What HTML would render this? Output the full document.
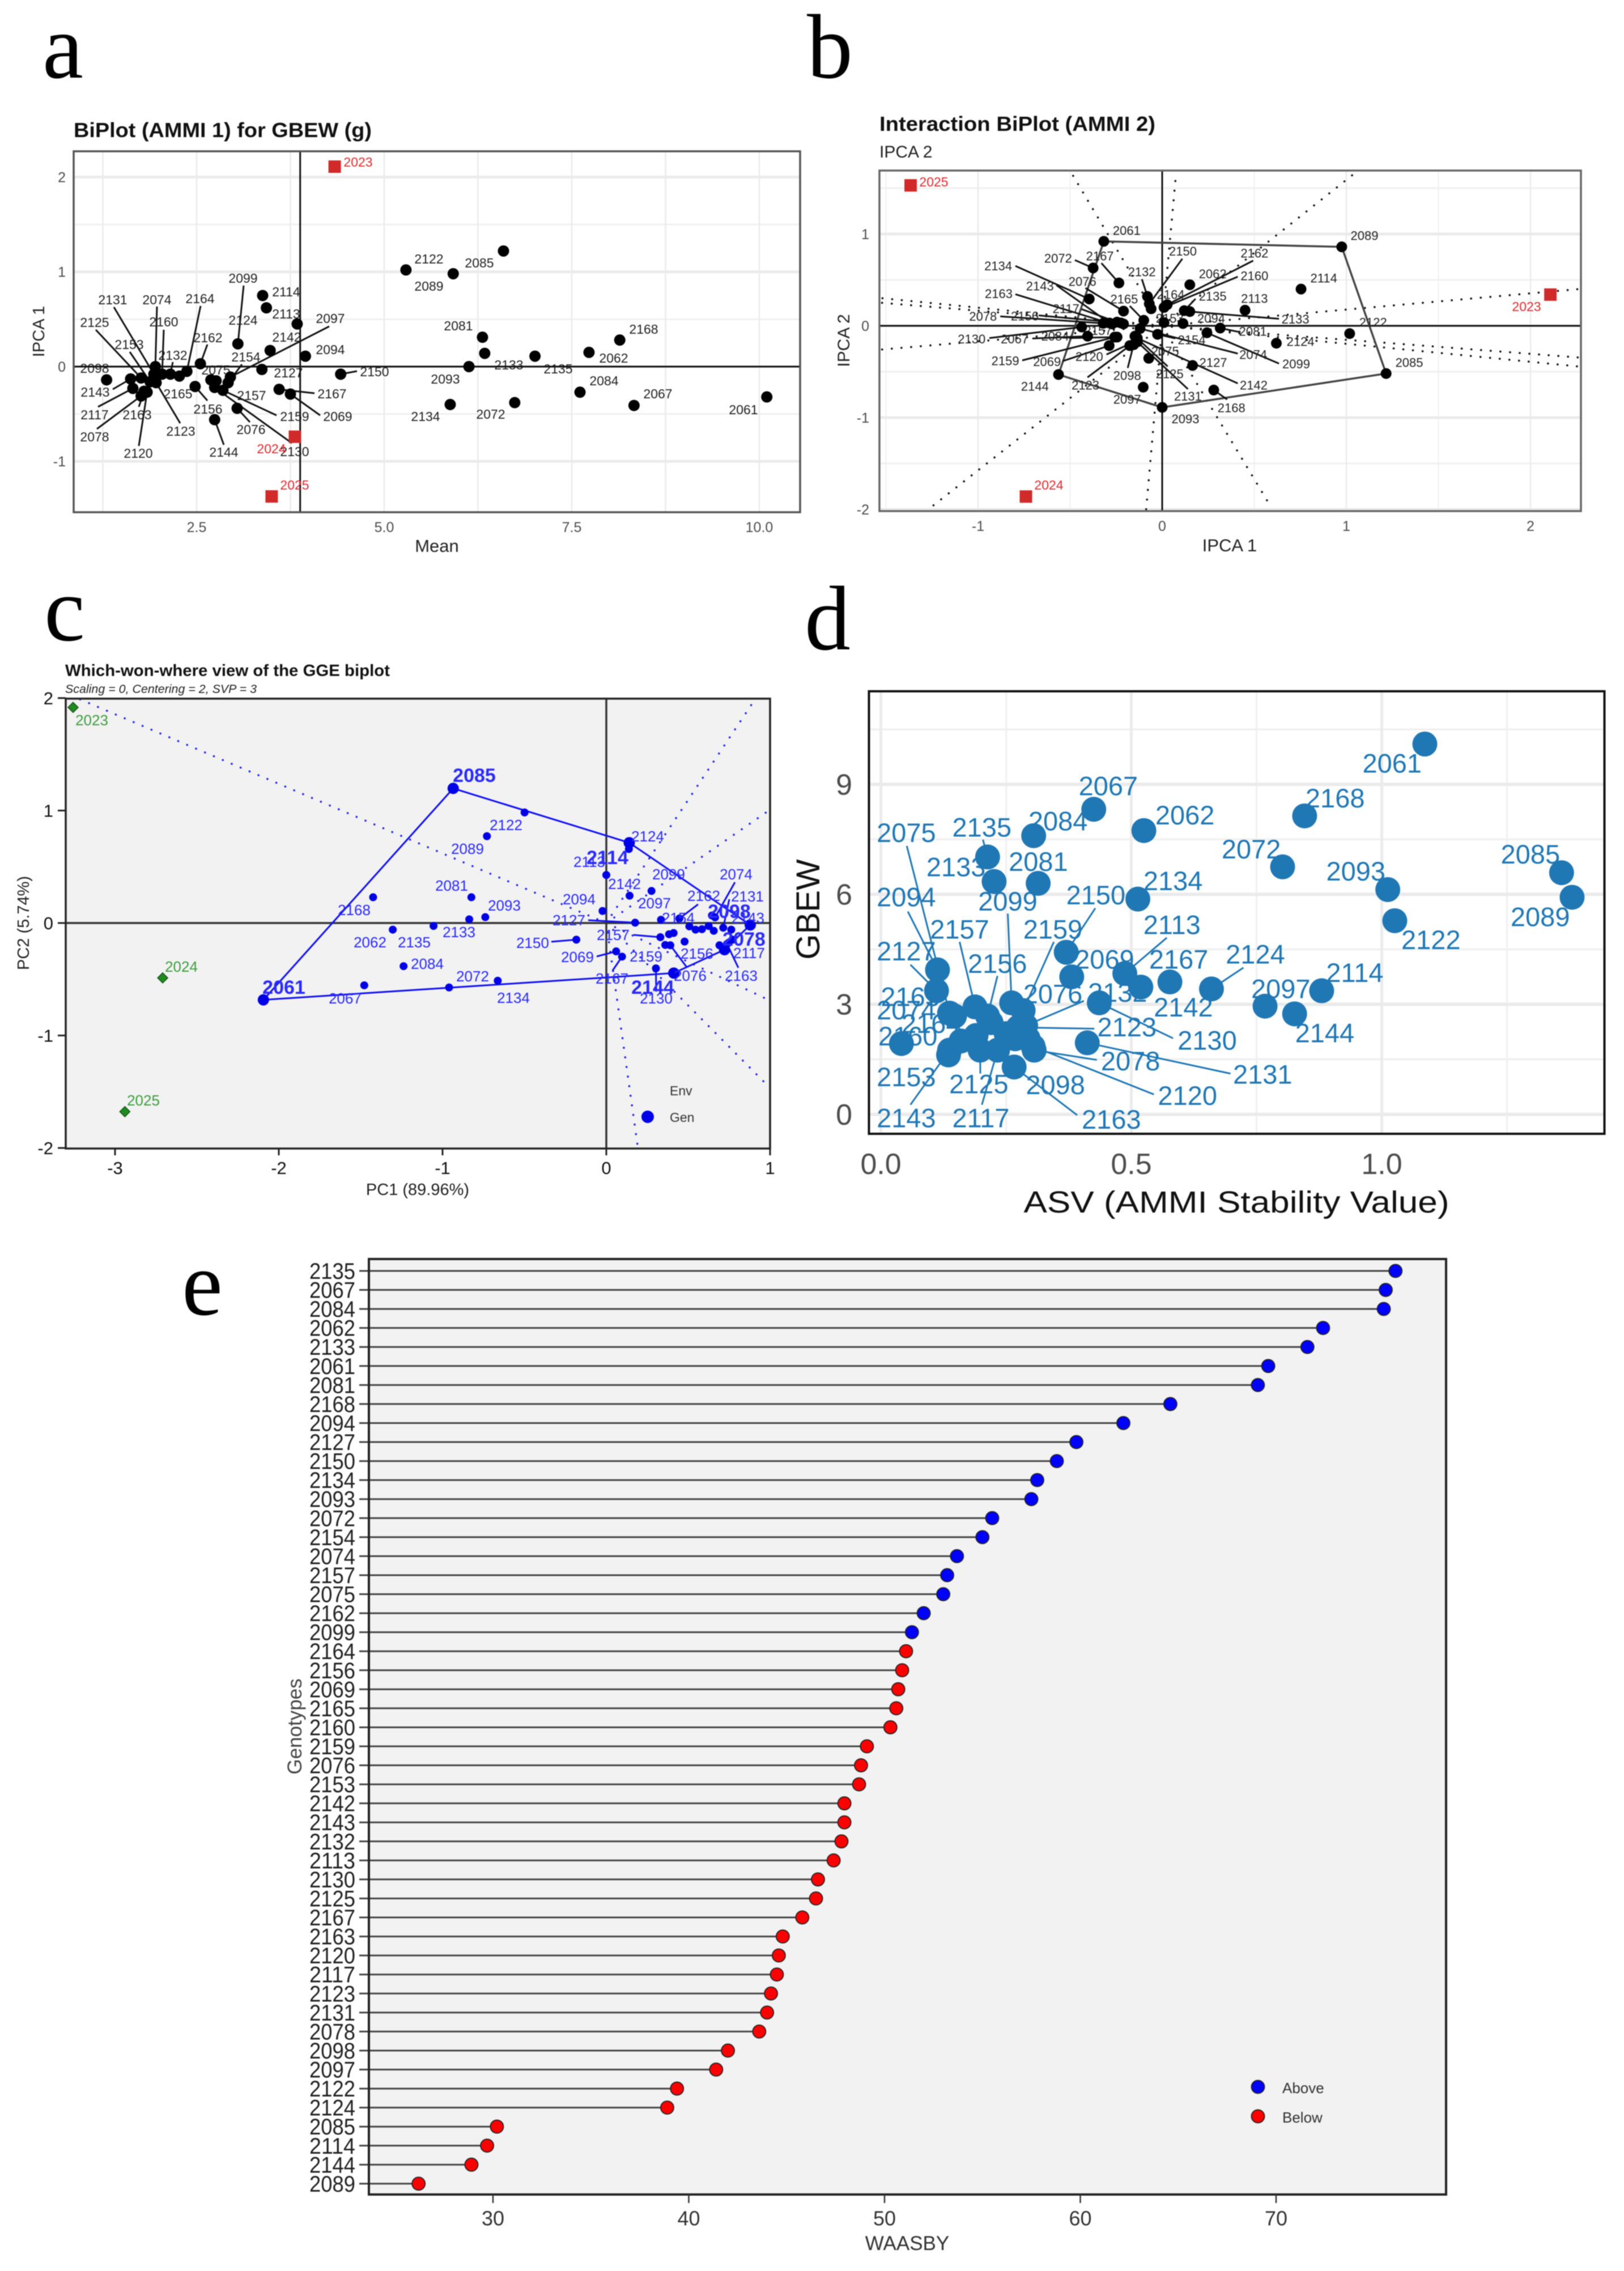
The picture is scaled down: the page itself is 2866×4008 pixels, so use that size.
<!DOCTYPE html>
<html lang="en">
<head>
<meta charset="utf-8">
<title>AMMI, GGE and WAASBY biplots for GBEW</title>
<style>
html,body{margin:0;padding:0;background:#fff;width:2866px;height:4008px;overflow:hidden}
svg{display:block;filter:blur(0.9px)}
text{font-family:"Liberation Sans",sans-serif}
.letter{font-family:"Liberation Serif",serif;font-size:162px;fill:#000}
</style>
</head>
<body>
<svg id="figure" xmlns="http://www.w3.org/2000/svg" width="2866" height="4008" viewBox="0 0 2866 4008">
  <rect x="0" y="0" width="2866" height="4008" fill="#fff"/>

  <g id="panel-a">
    <text class="letter" x="75" y="137">a</text>
    <text x="130" y="242" font-size="36" font-weight="bold" fill="#111" textLength="526" lengthAdjust="spacingAndGlyphs">BiPlot (AMMI 1) for GBEW (g)</text>
    <text x="771" y="974" font-size="31" fill="#222" text-anchor="middle">Mean</text>
    <text transform="translate(78 585) rotate(-90)" font-size="29" fill="#222" text-anchor="middle">IPCA 1</text>
  </g>

  <g id="panel-b">
    <text class="letter" x="1424" y="137">b</text>
    <text x="1552" y="231" font-size="36" font-weight="bold" fill="#111" textLength="487" lengthAdjust="spacingAndGlyphs">Interaction BiPlot (AMMI 2)</text>
    <text x="1552" y="278" font-size="30" fill="#222">IPCA 2</text>
    <text x="2170" y="973" font-size="31" fill="#222" text-anchor="middle">IPCA 1</text>
    <text transform="translate(1499 601) rotate(-90)" font-size="30" fill="#222" text-anchor="middle">IPCA 2</text>
  </g>

  <g id="panel-c">
    <text class="letter" x="78" y="1130">c</text>
    <text x="115" y="1193" font-size="29" font-weight="bold" fill="#111" textLength="573" lengthAdjust="spacingAndGlyphs">Which-won-where view of the GGE biplot</text>
    <text x="115" y="1223" font-size="21" font-style="italic" fill="#222" textLength="338" lengthAdjust="spacingAndGlyphs">Scaling = 0, Centering = 2, SVP = 3</text>
    <text x="737" y="2109" font-size="29" fill="#222" text-anchor="middle">PC1 (89.96%)</text>
    <text transform="translate(51 1629) rotate(-90)" font-size="29" fill="#222" text-anchor="middle">PC2 (5.74%)</text>
  </g>

  <g id="panel-d">
    <text class="letter" x="1420" y="1146">d</text>
    <text x="2182" y="2140" font-size="54" fill="#111" text-anchor="middle" textLength="751" lengthAdjust="spacingAndGlyphs">ASV (AMMI Stability Value)</text>
    <text transform="translate(1446 1605) rotate(-90)" font-size="58" fill="#111" text-anchor="middle">GBEW</text>
  </g>

  <g id="panel-e">
    <text class="letter" x="321" y="2320">e</text>
    <text x="1601" y="3971" font-size="35" fill="#333" text-anchor="middle">WAASBY</text>
    <text transform="translate(532 3047) rotate(-90)" font-size="35" fill="#444" text-anchor="middle">Genotypes</text>
  </g>
</svg>

<script>
/* ---------- Panel a data ---------- */
const aGenotypes = ['2098','2143','2117','2125','2078','2120','2163','2153','2131','2074','2160','2132','2165','2164','2162','2156','2123','2075','2154','2157','2097','2159','2130','2076','2144','2099','2114','2113','2124','2142','2094','2127','2150','2167','2069','2061','2067','2084','2168','2062','2135','2133','2081','2093','2134','2072','2122','2089','2085'];
const aMean = [1.30,1.62,1.65,1.76,1.76,1.84,1.80,1.88,1.93,1.95,2.04,2.15,2.27,2.37,2.55,2.48,1.96,2.69,2.92,2.76,2.95,2.85,2.74,3.04,2.74,3.05,3.38,3.84,3.43,3.48,3.95,3.37,4.42,3.60,3.75,10.10,8.33,7.61,8.14,7.73,7.01,6.34,6.31,6.13,5.88,6.74,5.29,5.92,6.59];
const aIpca1 = [-0.14,-0.13,-0.23,-0.12,-0.31,-0.27,-0.26,-0.16,-0.08,0.00,-0.08,-0.08,-0.10,-0.05,0.03,-0.21,-0.17,-0.14,-0.17,-0.15,-0.11,-0.25,-0.22,-0.44,-0.56,0.24,0.75,0.45,0.62,0.17,0.11,-0.03,-0.08,-0.24,-0.29,-0.32,-0.41,-0.27,0.28,0.15,0.11,0.14,0.31,0.00,-0.40,-0.38,1.02,0.98,1.22];
const aEnvironments = ['2023','2024','2025'];
const aEnvMean = [4.34,3.81,3.50];
const aEnvIpca1 = [2.11,-0.74,-1.37];
const aGrandMean = 3.88;
const aXTicks = [2.5,5,7.5,10];
const aXTickLabels = ['2.5','5.0','7.5','10.0'];
const aYTicks = [-1,0,1,2];
const aYTickLabels = ['-1','0','1','2'];

/* ---------- Panel b data ---------- */
const bGenotypes = ['2061','2072','2167','2134','2143','2076','2163','2117','2165','2132','2150','2062','2162','2160','2164','2135','2113','2133','2153','2094','2081','2124','2099','2074','2154','2075','2127','2142','2125','2131','2168','2097','2093','2098','2123','2144','2120','2069','2159','2157','2084','2067','2130','2078','2156','2089','2114','2122','2085'];
const bIpca1 = [-0.317,-0.375,-0.235,-0.396,-0.286,-0.21,-0.272,-0.245,-0.10,-0.08,-0.07,0.15,0.027,0.01,-0.06,0.12,0.45,0.15,0.01,0.113,0.315,0.62,0.243,-0.12,-0.025,-0.073,0.165,-0.135,-0.148,-0.135,0.28,-0.103,0,-0.155,-0.176,-0.563,-0.141,-0.288,-0.258,-0.21,-0.245,-0.405,-0.437,-0.32,-0.224,0.975,0.754,1.018,1.216];
const bIpca2 = [0.92,0.63,0.467,0.292,0.03,0.16,0.02,0.04,0.06,0.32,0.24,0.447,0.23,0.2,0.185,0.165,0.17,0.155,0.035,0.025,-0.025,-0.19,-0.076,-0.03,-0.093,-0.354,-0.432,-0.134,-0.113,-0.175,-0.70,-0.669,-0.889,-0.206,-0.216,-0.531,-0.165,-0.216,-0.123,0.02,-0.123,-0.113,-0.014,0.027,0.031,0.86,0.40,-0.085,-0.52];
const bEnvironments = ['2023','2024','2025'];
const bEnvIpca1 = [2.108,-0.74,-1.366];
const bEnvIpca2 = [0.34,-1.86,1.53];
const bHull = ['2061','2089','2085','2093','2144'];
const bRayEndX = [-0.496,0.076,1.054,2.28,2.28,2.28,0.589,-0.087,-1.27,-1.538,-1.538,-1.538];
const bRayEndY = [1.676,1.676,1.676,0.403,-0.348,-0.447,-1.968,-2.0,-2.0,-0.261,0.253,0.304];
const bXTicks = [-1,0,1,2];
const bXTickLabels = ['-1','0','1','2'];
const bYTicks = [-2,-1,0,1];
const bYTickLabels = ['-2','-1','0','1'];

/* ---------- Panel c data ---------- */
const cGenotypes = ['2061','2085','2122','2089','2168','2081','2093','2133','2135','2062','2084','2067','2072','2134','2150','2114','2124','2113','2142','2097','2094','2127','2154','2162','2164','2165','2160','2153','2132','2131','2125','2143','2074','2098','2078','2117','2120','2163','2123','2144','2130','2157','2075','2099','2159','2076','2156','2069','2167'];
const cPc1 = [-2.094,-0.935,-0.499,-0.729,-1.424,-0.824,-0.739,-0.837,-1.055,-1.304,-1.238,-1.478,-0.96,-0.663,-0.183,0.14,0.138,0,0.142,0.276,-0.023,0.176,0.334,0.446,0.507,0.545,0.584,0.625,0.656,0.714,0.763,0.645,0.664,0.879,0.722,0.691,0.771,0.737,0.749,0.412,0.303,0.33,0.383,0.411,0.36,0.391,0.478,0.06,0.096];
const cPc2 = [-0.683,1.197,0.983,0.772,0.229,0.229,0.052,0.033,-0.026,-0.059,-0.384,-0.554,-0.573,-0.513,-0.148,0.714,0.658,0.427,0.243,0.285,0.107,0.003,0.029,0.04,-0.03,-0.059,-0.055,-0.027,-0.069,-0.042,-0.059,0.067,0.05,-0.017,-0.237,-0.198,-0.148,-0.186,-0.173,-0.445,-0.403,-0.126,-0.10,-0.089,-0.195,-0.198,-0.165,-0.252,-0.299];
const cEnvironments = ['2023','2024','2025'];
const cEnvPc1 = [-3.256,-2.709,-2.94];
const cEnvPc2 = [1.917,-0.488,-1.677];
const cHull = ['2061','2085','2114','2098','2078','2144'];
const cRayEndX = [-3.224,0.193,0.913,1,1,1];
const cRayEndY = [1.995,-2,2,1.008,-0.69,-1.467];
const cXTicks = [-3,-2,-1,0,1];
const cXTickLabels = ['-3','-2','-1','0','1'];
const cYTicks = [-2,-1,0,1,2];
const cYTickLabels = ['-2','-1','0','1','2'];

/* ---------- Panel d data ---------- */
const dGenotypes = ['2061','2168','2062','2067','2084','2135','2133','2081','2072','2093','2085','2089','2122','2134','2150','2069','2113','2142','2167','2124','2114','2097','2144','2130','2131','2094','2127','2075','2157','2099','2156','2159','2074','2165','2160','2164','2153','2143','2125','2117','2098','2163','2078','2120','2132','2123','2076','2154','2162'];
const dAsv = [1.086,0.846,0.525,0.425,0.305,0.213,0.226,0.314,0.802,1.012,1.359,1.38,1.026,0.513,0.37,0.381,0.487,0.519,0.577,0.66,0.88,0.767,0.826,0.436,0.412,0.113,0.111,0.137,0.188,0.261,0.213,0.284,0.147,0.19,0.041,0.16,0.135,0.137,0.198,0.233,0.268,0.266,0.306,0.304,0.294,0.274,0.289,0.25,0.22];
const dGbew = [10.10,8.14,7.74,8.32,7.60,7.02,6.35,6.30,6.75,6.13,6.59,5.92,5.28,5.87,4.42,3.75,3.84,3.47,3.61,3.42,3.37,2.95,2.74,3.04,1.95,3.94,3.37,2.76,2.93,3.04,2.68,2.83,2.68,2.15,1.93,2.0,1.62,1.75,1.75,1.75,2.06,1.29,1.75,1.85,2.06,2.37,2.42,2.2,2.5];
const dXTicks = [0,0.5,1];
const dXTickLabels = ['0.0','0.5','1.0'];
const dYTicks = [0,3,6,9];
const dYTickLabels = ['0','3','6','9'];

/* ---------- Panel e data ---------- */
const eGenotypes = ['2135','2067','2084','2062','2133','2061','2081','2168','2094','2127','2150','2134','2093','2072','2154','2074','2157','2075','2162','2099','2164','2156','2069','2165','2160','2159','2076','2153','2142','2143','2132','2113','2130','2125','2167','2163','2120','2117','2123','2131','2078','2098','2097','2122','2124','2085','2114','2144','2089'];
const eWaasby = [76.1,75.6,75.5,72.4,71.6,69.6,69.07,64.6,62.2,59.8,58.8,57.8,57.5,55.5,55.0,53.7,53.2,53.0,52.0,51.4,51.1,50.9,50.7,50.6,50.3,49.1,48.8,48.7,47.95,47.95,47.8,47.4,46.6,46.5,45.8,44.8,44.6,44.5,44.2,44.0,43.6,42.0,41.4,39.4,38.9,30.2,29.7,28.9,26.2];
const eGroupThreshold = 51.25;
const eXTicks = [30,40,50,60,70];
const eXTickLabels = ['30','40','50','60','70'];

/* ---------- Label placement (layout only: label centre, optional leader start) ---------- */
const aLabelLayout = {'2098':[167,650],'2143':[168,692,199,687],'2117':[167,732,173,718],'2125':[167,569,169,582],'2078':[167,771,171,757],'2120':[244,800,245,787],'2163':[242,732,245,718],'2153':[228,608,229,621],'2131':[199,529,201,542],'2074':[277,529,277,541],'2160':[289,568,289,582],'2132':[305,627,305,639],'2165':[314,695],'2164':[353,527,354,540],'2162':[367,596,366,608],'2156':[367,722,366,707],'2123':[319,761,318,747],'2075':[381,653],'2154':[434,630,427,643],'2157':[444,698],'2097':[583,562,581,576],'2159':[520,735,488,733],'2130':[520,797,515,782],'2076':[443,758,441,745],'2144':[395,798,395,785],'2099':[429,491,430,504],'2114':[505,515],'2113':[505,554],'2124':[429,565],'2142':[506,595],'2094':[583,617],'2127':[509,658],'2150':[661,656,630,655],'2167':[586,695,555,694],'2069':[596,735,565,733],'2061':[1312,723],'2067':[1161,695],'2084':[1066,672],'2168':[1136,581],'2062':[1083,632],'2135':[985,651],'2133':[898,644],'2081':[809,575],'2093':[786,669],'2134':[751,735],'2072':[866,731],'2122':[757,457],'2089':[757,505],'2085':[846,464]};
const aEnvLabelLayout = {'2023':[632,286],'2024':[479,792],'2025':[520,856]};

/* b layout is in a 2.24x / 3x grid anchored at (1650,380) */
const bLabelLayout = {'2061':[758,80],'2072':[487,228,553,237],'2167':[652,215,658,253],'2134':[250,268,318,268],'2143':[415,375,480,370],'2076':[583,350,595,385],'2163':[252,415,318,418],'2117':[518,495,580,497],'2165':[748,443,770,480],'2132':[818,300,818,338],'2150':[980,190,978,230],'2062':[1098,310],'2162':[1263,200,1258,240],'2160':[1263,320,1197,325],'2164':[932,420],'2135':[1098,428,1030,442],'2113':[1263,440],'2133':[1425,550,1360,548],'2153':[928,545],'2094':[1092,545],'2081':[1257,615,1200,617],'2124':[1445,668],'2099':[1428,787,1360,785],'2074':[1258,737,1197,732],'2154':[1015,660,950,652],'2075':[910,720],'2127':[1100,780],'2142':[1260,900,1197,890],'2125':[928,840,920,800],'2131':[1000,958,1000,920],'2168':[1172,1020,1155,975],'2097':[760,975],'2093':[990,1078],'2098':[760,848,762,808],'2123':[595,900,603,858],'2144':[395,905],'2120':[610,748,678,737],'2069':[443,775,505,772],'2159':[278,770,345,768],'2157':[645,610],'2084':[475,640,530,650],'2067':[315,655,385,652],'2130':[145,655,215,650],'2078':[190,535,258,535],'2156':[355,533,410,530],'2089':[1698,108],'2114':[1537,333],'2122':[1732,567],'2085':[1875,780]};
const bEnvLabelLayout = {'2023':[2694,541],'2024':[1851,856],'2025':[1648,321]};

const cLabelLayout = {'2061':[501,1742],'2085':[837,1368],'2122':[893,1456],'2089':[825,1498],'2168':[625,1606],'2081':[797,1563],'2093':[890,1598],'2133':[810,1645],'2135':[731,1663],'2062':[653,1663],'2084':[754,1701],'2067':[609,1762],'2072':[834,1723],'2134':[906,1761],'2150':[940,1664,973,1662],'2094':[1022,1587],'2127':[1004,1624,1038,1624],'2114':[1072,1513],'2113':[1040,1521],'2124':[1143,1476],'2142':[1102,1560],'2099':[1180,1543],'2097':[1155,1594],'2162':[1242,1581,1232,1596],'2074':[1299,1543,1297,1557],'2131':[1319,1582,1287,1587],'2098':[1287,1608],'2143':[1320,1620],'2154':[1197,1620],'2157':[1082,1650,1118,1650],'2078':[1313,1657],'2117':[1322,1682],'2156':[1230,1683],'2159':[1140,1688],'2069':[1019,1689,1053,1688],'2167':[1080,1727,1081,1713],'2076':[1218,1722,1212,1707],'2163':[1308,1722,1303,1708],'2144':[1152,1742],'2130':[1158,1762,1158,1750]};
const cEnvLabelLayout = {'2023':[162,1271],'2024':[320,1706],'2025':[253,1942]};

/* d layout is in a 1.094x / 1.3635x grid anchored at (1433,1000) */
const dLabelLayout = {'2061':[1120,473],'2168':[1010,557],'2062':[720,598],'2067':[572,528],'2084':[475,612],'2135':[328,627,330,657],'2133':[278,723],'2081':[437,710],'2072':[848,680],'2093':[1050,733],'2085':[1387,692],'2089':[1406,843],'2122':[1195,898],'2134':[697,756],'2150':[548,790,547,822],'2069':[565,945],'2113':[695,862,685,893],'2142':[717,1060],'2167':[708,945],'2124':[856,933,833,965],'2114':[1048,977],'2097':[905,1016],'2144':[990,1122],'2130':[763,1140,697,1135],'2131':[870,1222,808,1220],'2094':[182,795,185,830],'2127':[182,925,190,958],'2075':[182,640,183,672],'2157':[285,873,285,903],'2099':[378,805,378,835],'2156':[358,955,358,985],'2159':[465,873,467,903],'2074':[182,1067],'2165':[190,1035],'2160':[185,1130],'2164':[230,1100],'2153':[182,1228],'2143':[182,1327,190,1295],'2125':[322,1245,325,1220],'2117':[326,1327,328,1295],'2098':[470,1247],'2163':[578,1330,512,1320],'2078':[615,1190,550,1187],'2120':[725,1273,660,1270],'2132':[590,1025],'2123':[608,1108,545,1112],'2076':[465,1028,525,1045]};

/* ---------- Helpers ---------- */
const NS = 'http://www.w3.org/2000/svg';
function make(tag, attrs, parent, text) {
  const node = document.createElementNS(NS, tag);
  for (const k in attrs) node.setAttribute(k, attrs[k]);
  if (text !== undefined) node.textContent = text;
  parent.appendChild(node);
  return node;
}
function linear(d0, d1, r0, r1) {
  return function (v) { return r0 + (v - d0) * (r1 - r0) / (d1 - d0); };
}
function range(from, to, step) {
  const out = [];
  for (let i = 0; from + i * step <= to + 1e-9; i++) out.push(from + i * step);
  return out;
}

function drawPanelBackground(parent, box, fill) {
  const r = make('rect', {x: box.l, y: box.t, width: box.r - box.l, height: box.b - box.t, fill: fill}, parent);
  
  
}
function drawBorder(parent, box, color, width) {
  const r = make('rect', {x: box.l, y: box.t, width: box.r - box.l, height: box.b - box.t, fill: 'none', stroke: color, 'stroke-width': width}, parent);
  
  
}
function drawGrid(parent, box, sx, sy, xVals, xMinorVals, yVals, yMinorVals, wMajorX, wMinorX, wMajorY, wMinorY) {
  xMinorVals.forEach(function (v) {
    const g = make('line', {x1: sx(v), x2: sx(v), y1: box.t, y2: box.b, stroke: '#f0f0f0', 'stroke-width': wMinorX}, parent);
    
    
  });
  yMinorVals.forEach(function (v) {
    const g = make('line', {x1: box.l, x2: box.r, y1: sy(v), y2: sy(v), stroke: '#f0f0f0', 'stroke-width': wMinorY}, parent);
    
    
  });
  xVals.forEach(function (v) {
    const g = make('line', {x1: sx(v), x2: sx(v), y1: box.t, y2: box.b, stroke: '#ebebeb', 'stroke-width': wMajorX}, parent);
    
    
  });
  yVals.forEach(function (v) {
    const g = make('line', {x1: box.l, x2: box.r, y1: sy(v), y2: sy(v), stroke: '#ebebeb', 'stroke-width': wMajorY}, parent);
    
    
  });
}
function drawXTickLabels(parent, ticks, labels, sx, y, size, color) {
  ticks.forEach(function (v, i) {
    const t = make('text', {x: sx(v), y: y, 'font-size': size, fill: color, 'text-anchor': 'middle', dy: '0.35em'}, parent, labels[i]);
    
    
  });
}
function drawYTickLabels(parent, ticks, labels, sy, x, size, color) {
  ticks.forEach(function (v, i) {
    const t = make('text', {x: x, y: sy(v), 'font-size': size, fill: color, 'text-anchor': 'end', dy: '0.35em'}, parent, labels[i]);
    
    
  });
}
function drawCrossLines(parent, box, px, py, color, width) {
  const h = make('line', {x1: box.l, x2: box.r, y1: py, y2: py, stroke: color, 'stroke-width': width}, parent);
  
  
  const v = make('line', {x1: px, x2: px, y1: box.t, y2: box.b, stroke: color, 'stroke-width': width}, parent);
  
  
}
function drawRays(parent, sx, sy, endX, endY, color) {
  endX.forEach(function (v, i) {
    const r = make('line', {x1: sx(0), y1: sy(0), x2: sx(v), y2: sy(endY[i]), stroke: color, 'stroke-width': 3.6, 'stroke-dasharray': '0.1 17', 'stroke-linecap': 'round'}, parent);
    
    
  });
}
function drawHull(parent, names, genos, xs, ys, sx, sy, color, width) {
  const pts = names.map(function (n) {
    const i = genos.indexOf(n);
    return sx(xs[i]) + ',' + sy(ys[i]);
  }).join(' ');
  const p = make('polygon', {points: pts, fill: 'none', stroke: color, 'stroke-width': width}, parent);
  
  
}
function drawLeaders(parent, genos, xs, ys, sx, sy, layout, toPx, color, width) {
  genos.forEach(function (g, i) {
    const l = layout[g];
    if (!l || l.length < 4) return;
    const s = toPx(l[2], l[3]);
    const c = make('line', {x1: s[0], y1: s[1], x2: sx(xs[i]), y2: sy(ys[i]), stroke: color, 'stroke-width': width}, parent);
    
    
  });
}
function drawLabels(parent, names, layout, toPx, color, size, boldNames, boldSize) {
  names.forEach(function (g) {
    const l = layout[g];
    if (!l) return;
    const p = toPx(l[0], l[1]);
    const isBold = boldNames && boldNames.indexOf(g) >= 0;
    const t = make('text', {x: p[0], y: p[1], 'font-size': isBold ? boldSize : size, 'font-weight': isBold ? 'bold' : 'normal', fill: color, 'text-anchor': 'middle', dy: '0.35em'}, parent, g);
    
    
  });
}
function drawPoints(parent, genos, xs, ys, sx, sy, color, r, bigNames, bigR) {
  genos.forEach(function (g, i) {
    const isBig = bigNames && bigNames.indexOf(g) >= 0;
    const c = make('circle', {cx: sx(xs[i]), cy: sy(ys[i]), r: isBig ? bigR : r, fill: color}, parent);
    
    
  });
}
function drawSquares(parent, names, xs, ys, sx, sy) {
  names.forEach(function (g, i) {
    const s = make('rect', {x: sx(xs[i]) - 11, y: sy(ys[i]) - 11, width: 22, height: 22, fill: '#d12a2a'}, parent);
    
    
  });
}
const identity = function (x, y) { return [x, y]; };

/* ---------- Panel a ---------- */
(function () {
  const g = document.getElementById('panel-a');
  const box = {l: 130, r: 1412, t: 267, b: 904};
  const sx = linear(2.5, 10, 347, 1340);
  const sy = linear(0, 2, 647, 312.5);
  drawGrid(g, box, sx, sy, range(1.25, 10, 1.25), [], aYTicks, [-0.5, 0.5, 1.5], 2.5, 2, 5, 3);
  drawLeaders(g, aGenotypes, aMean, aIpca1, sx, sy, aLabelLayout, identity, '#111', 3);
  drawLabels(g, aGenotypes, aLabelLayout, identity, '#222', 23);
  drawCrossLines(g, box, sx(aGrandMean), sy(0), '#111', 3);
  drawPoints(g, aGenotypes, aMean, aIpca1, sx, sy, '#000', 10);
  drawSquares(g, aEnvironments, aEnvMean, aEnvIpca1, sx, sy);
  drawLabels(g, aEnvironments, aEnvLabelLayout, identity, '#e2282c', 23);
  drawBorder(g, box, '#555', 3.5);
  drawXTickLabels(g, aXTicks, aXTickLabels, sx, 930, 25, '#4d4d4d');
  drawYTickLabels(g, aYTicks, aYTickLabels, sy, 116, 25, '#4d4d4d');
})();

/* ---------- Panel b ---------- */
(function () {
  const g = document.getElementById('panel-b');
  const box = {l: 1552, r: 2790, t: 301, b: 902};
  const sx = linear(0, 1, 2051, 2376);
  const sy = linear(0, 1, 575, 413);
  const toPx = function (u, v) { return [1650 + u / 2.24, 380 + v / 3]; };
  drawGrid(g, box, sx, sy, bXTicks, [-1.5, -0.5, 0.5, 1.5], bYTicks, [-1.5, -0.5, 0.5, 1.5], 2.5, 2, 5, 3);
  drawRays(g, sx, sy, bRayEndX, bRayEndY, '#111');
  drawCrossLines(g, box, sx(0), sy(0), '#111', 3);
  drawHull(g, bHull, bGenotypes, bIpca1, bIpca2, sx, sy, '#444', 3.5);
  drawLeaders(g, bGenotypes, bIpca1, bIpca2, sx, sy, bLabelLayout, toPx, '#111', 3);
  drawLabels(g, bGenotypes, bLabelLayout, toPx, '#222', 22);
  drawPoints(g, bGenotypes, bIpca1, bIpca2, sx, sy, '#000', 9.5);
  drawSquares(g, bEnvironments, bEnvIpca1, bEnvIpca2, sx, sy);
  drawLabels(g, bEnvironments, bEnvLabelLayout, identity, '#e2282c', 23);
  drawBorder(g, box, '#666', 3.5);
  drawXTickLabels(g, bXTicks, bXTickLabels, sx, 928, 25, '#4d4d4d');
  drawYTickLabels(g, bYTicks, bYTickLabels, sy, 1534, 25, '#4d4d4d');
})();

/* ---------- Panel c ---------- */
(function () {
  const g = document.getElementById('panel-c');
  const box = {l: 116, r: 1359, t: 1233, b: 2027};
  const sx = linear(0, 1, 1070, 1359);
  const sy = linear(0, 1, 1629, 1430.5);
  drawPanelBackground(g, box, '#f2f2f2');
  drawRays(g, sx, sy, cRayEndX, cRayEndY, '#2222ee');
  drawCrossLines(g, box, sx(0), sy(0), '#333', 3.5);
  drawHull(g, cHull, cGenotypes, cPc1, cPc2, sx, sy, '#1010f0', 3);
  drawLeaders(g, cGenotypes, cPc1, cPc2, sx, sy, cLabelLayout, identity, '#1010f0', 3);
  drawPoints(g, cGenotypes, cPc1, cPc2, sx, sy, '#0000e6', 7, cHull, 10);
  drawLabels(g, cGenotypes, cLabelLayout, identity, '#2a2aff', 26, cHull, 34);
  cEnvironments.forEach(function (name, i) {
    const cx = sx(cEnvPc1[i]);
    const cy = sy(cEnvPc2[i]);
    const d = make('polygon', {points: cx + ',' + (cy - 9) + ' ' + (cx + 9) + ',' + cy + ' ' + cx + ',' + (cy + 9) + ' ' + (cx - 9) + ',' + cy, fill: '#1f8a1f', stroke: '#145214', 'stroke-width': 1.5}, g);
    
    
  });
  drawLabels(g, cEnvironments, cEnvLabelLayout, identity, '#3c9f3c', 26);
  const envLegend = make('text', {x: 1182, y: 1925, 'font-size': 23, fill: '#333', dy: '0.35em'}, g, 'Env');
  
  
  const genDot = make('circle', {cx: 1143, cy: 1971, r: 11, fill: '#0000e6'}, g);
  
  
  const genLegend = make('text', {x: 1182, y: 1972, 'font-size': 23, fill: '#333', dy: '0.35em'}, g, 'Gen');
  
  
  drawBorder(g, box, '#222', 3.5);
  cXTicks.forEach(function (v) {
    const t = make('line', {x1: sx(v), x2: sx(v), y1: box.b, y2: box.b + 12, stroke: '#222', 'stroke-width': 3}, g);
    
    
  });
  cYTicks.forEach(function (v) {
    const t = make('line', {x1: box.l - 14, x2: box.l, y1: sy(v), y2: sy(v), stroke: '#222', 'stroke-width': 3}, g);
    
    
  });
  drawXTickLabels(g, cXTicks, cXTickLabels, sx, 2061, 31, '#111');
  drawYTickLabels(g, cYTicks, cYTickLabels, sy, 94, 31, '#111');
})();

/* ---------- Panel d ---------- */
(function () {
  const g = document.getElementById('panel-d');
  const box = {l: 1533.5, r: 2831.5, t: 1220, b: 2001};
  const sx = linear(0, 1, 1554.6, 2438.5);
  const sy = linear(0, 9, 1966.6, 1384.3);
  const toPx = function (u, v) { return [1433 + u / 1.094, 1000 + v / 1.3635]; };
  drawGrid(g, box, sx, sy, dXTicks, [0.25, 0.75, 1.25], dYTicks, [1.5, 4.5, 7.5, 10.5], 5, 3, 6, 3.5);
  drawLeaders(g, dGenotypes, dAsv, dGbew, sx, sy, dLabelLayout, toPx, '#1f77b4', 3);
  drawLabels(g, dGenotypes, dLabelLayout, toPx, '#1f77b4', 47);
  drawPoints(g, dGenotypes, dAsv, dGbew, sx, sy, '#1f77b4', 22);
  drawBorder(g, box, '#111', 4);
  drawXTickLabels(g, dXTicks, dXTickLabels, sx, 2054, 52, '#4d4d4d');
  drawYTickLabels(g, dYTicks, dYTickLabels, sy, 1504, 52, '#4d4d4d');
})();

/* ---------- Panel e ---------- */
(function () {
  const g = document.getElementById('panel-e');
  const box = {l: 651, r: 2552, t: 2222, b: 3873};
  const sx = linear(30, 70, 870, 2252);
  const sy = function (i) { return 2243 + i * 33.56; };
  drawPanelBackground(g, box, '#f2f2f2');
  eGenotypes.forEach(function (name, i) {
    const line = make('line', {x1: 634, x2: sx(eWaasby[i]), y1: sy(i), y2: sy(i), stroke: '#444', 'stroke-width': 3}, g);
    
    
    const label = make('text', {x: 627, y: sy(i), 'font-size': 40, fill: '#222', 'text-anchor': 'end', dy: '0.35em', textLength: 81, lengthAdjust: 'spacingAndGlyphs'}, g, name);
    
    
  });
  drawBorder(g, box, '#222', 4);
  eGenotypes.forEach(function (name, i) {
    const above = eWaasby[i] >= eGroupThreshold;
    const dot = make('circle', {cx: sx(eWaasby[i]), cy: sy(i), r: 11.5, fill: above ? '#0000ff' : '#ff0000', stroke: '#222', 'stroke-width': 1.8}, g);
    
    
  });
  eXTicks.forEach(function (v) {
    const t = make('line', {x1: sx(v), x2: sx(v), y1: box.b, y2: box.b + 15, stroke: '#333', 'stroke-width': 2.5}, g);
    
    
  });
  drawXTickLabels(g, eXTicks, eXTickLabels, sx, 3915, 36, '#333');
  const aboveDot = make('circle', {cx: 2220, cy: 3683, r: 11.5, fill: '#0000ff', stroke: '#222', 'stroke-width': 1.8}, g);
  
  
  const aboveText = make('text', {x: 2263, y: 3685, 'font-size': 26, fill: '#333', dy: '0.35em'}, g, 'Above');
  
  
  const belowDot = make('circle', {cx: 2220, cy: 3735, r: 11.5, fill: '#ff0000', stroke: '#222', 'stroke-width': 1.8}, g);
  
  
  const belowText = make('text', {x: 2263, y: 3737, 'font-size': 26, fill: '#333', dy: '0.35em'}, g, 'Below');
  
  
})();
</script>
</body>
</html>
